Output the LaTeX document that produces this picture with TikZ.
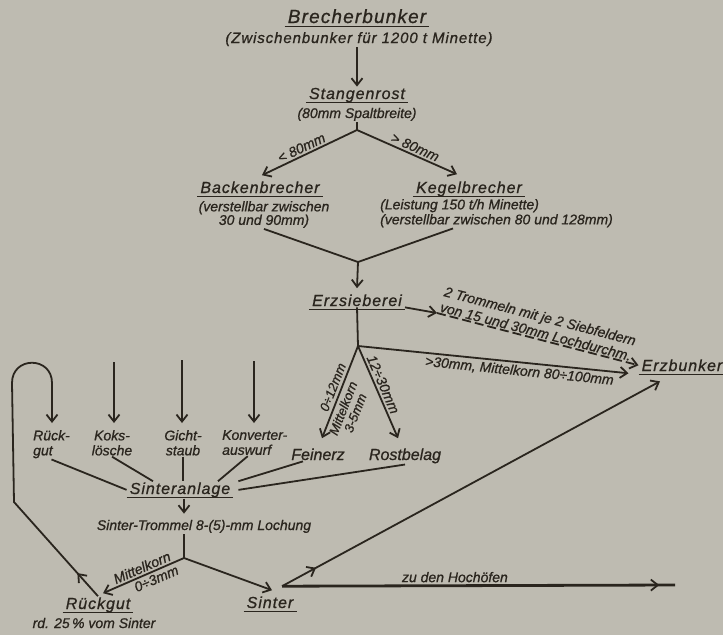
\documentclass[tikz,border=0pt]{standalone}
\usepackage{fontspec}
\setmainfont{Liberation Sans}[FakeBold=0.8]
\newfontfamily\sperrfont{Liberation Sans}[LetterSpace=6.0,FakeBold=0.8]
\usetikzlibrary{arrows.meta,decorations.markings,calc}
\definecolor{papier}{RGB}{190,187,177}
\definecolor{tinte}{RGB}{42,37,30}
\tikzset{
    every node/.style={text=tinte, inner sep=1pt, font=\itshape\fontsize{14}{15}\selectfont},
    linie/.style={draw=tinte, line width=1.8pt},
    strom/.style={linie, -{Straight Barb[length=7pt,width=11pt]}},
    mitte/.style={postaction={decorate}, decoration={markings,
        mark=at position #1 with {\arrow{Straight Barb[length=7pt,width=11pt,line width=1.8pt]}}}},
    kopf/.style={anchor=base, inner xsep=3pt, font=\sperrfont\itshape\fontsize{16}{18}\selectfont,
        append after command={\pgfextra{\draw[tinte, line width=1.8pt]
            ([yshift=-3.5pt]\tikzlastnode.base west) -- ([yshift=-3.5pt]\tikzlastnode.base east);}}},
    gross/.style={font=\sperrfont\itshape\fontsize{19}{21}\selectfont},
    stoff/.style={anchor=base, font=\itshape\fontsize{16}{18}\selectfont},
    klein/.style={font=\itshape\fontsize{13}{13}\selectfont},
}

\begin{document}
\begin{tikzpicture}[x=1pt,y=-1pt]
\fill[papier] (0,0) rectangle (723,635);
\useasboundingbox (0,0) rectangle (723,635);

% Brechen und Sieben
\node[kopf, gross] (brecher) at (357,23) {Brecherbunker};
\node[anchor=base, font=\sperrfont\itshape\fontsize{15}{17}\selectfont] (brecherzus) at (359,43) {(Zwischenbunker für 1200 t Minette)};
\node[kopf] (stangen) at (357,99) {Stangenrost};
\node[anchor=base] (stangenzus) at (357,118) {(80mm Spaltbreite)};
\coordinate (gabel1) at (357,130);
\node[kopf] (backen) at (260,193) {Backenbrecher};
\node[anchor=north, align=center, font=\itshape\fontsize{14}{13.5}\selectfont] (backenzus) at (264,200) {(verstellbar zwischen\\30 und 90mm)};
\node[kopf] (kegel) at (469,193) {Kegelbrecher};
\node[anchor=north west, align=left] (kegelzus) at (379,198) {(Leistung 150 t/h Minette)\\(verstellbar zwischen 80 und 128mm)};
\coordinate (gabel2) at (358,262);
\node[kopf] (erzs) at (357,306) {Erzsieberei};
\coordinate (sieb) at (437,313);
\node[kopf] (ebunk) at (682,371) {Erzbunker};
\coordinate (gabel3) at (358,346);
\node[stoff] (fein) at (318,460) {Feinerz};
\node[stoff] (rost) at (405,460) {Rostbelag};

% Sinteranlage
\coordinate (knick) at (14,502);
\coordinate (bogen) at (12,383);
\coordinate (bogenende) at (52,383);
\coordinate (qkoks) at (114,362);
\coordinate (qgicht) at (182,360);
\coordinate (qkonv) at (254,361);
\node[anchor=north west, align=left] (rgut) at (32,429) {Rück-\\gut};
\node[anchor=north, align=center] (koks) at (112,429) {Koks-\\lösche};
\node[anchor=north, align=center] (gicht) at (183,429) {Gicht-\\staub};
\node[anchor=north west, align=left] (konv) at (221,429) {Konverter-\\auswurf};
\node[kopf] (sinter) at (180,494) {Sinteranlage};
\node[anchor=base] (trommel) at (204,530) {Sinter-Trommel 8-(5)-mm Lochung};
\coordinate (gabel4) at (184,558);
\node[kopf] (rueck) at (98,609) {Rückgut};
\node[anchor=base] (rueckzus) at (94,628) {rd. 25\,\% vom Sinter};
\node[kopf] (sint) at (270,608) {Sinter};
\coordinate (abgang) at ($(sint.north)+(12,-9)$);
\coordinate (hoch) at (675,585);

\draw[strom] (brecherzus.south -| stangen.north) -- (stangen.north);
\draw[linie] (stangenzus.south) -- (gabel1);
\draw[strom] (gabel1) -- node[sloped, above=1pt, pos=.55] {< 80mm} ([xshift=2pt,yshift=5pt]backen.north);
\draw[strom] (gabel1) -- node[sloped, above=1pt, pos=.55] {> 80mm} ([xshift=-12pt,yshift=6pt]kegel.north);
\draw[linie] (backenzus.south) -- (gabel2) -- ($(kegel.south |- kegelzus.south)+(-16,0)$);
\draw[strom] (gabel2) -- ([yshift=5pt]erzs.north);
\draw[strom] (erzs.south east) -- (sieb);
\draw[strom, dash pattern=on 9pt off 4pt] (sieb) -- node[sloped, pos=0, anchor=south west, align=left, font=\itshape\fontsize{14}{16}\selectfont] {2 Trommeln mit je 2 Siebfeldern\\von 15 und 30mm Lochdurchm.} (ebunk.west);
\draw[linie] (erzs.south) -- (gabel3);
\draw[strom] (gabel3) -- node[sloped, below=1pt, pos=.6] {>30mm, Mittelkorn 80÷100mm} ([xshift=-10pt,yshift=-8pt]ebunk.west);
\draw[strom] (gabel3) -- node[klein, sloped, above=2pt, pos=.48] {0÷12mm} node[klein, sloped, below=2pt, pos=.64, align=center] {Mittelkorn\\3-5mm} ([xshift=4pt,yshift=9pt]fein.north);
\draw[strom] (gabel3) -- node[sloped, above=1pt, pos=.45] {12÷30mm} ([xshift=-7pt,yshift=9pt]rost.north);

\draw[strom, mitte=31pt] (rueck.north) -- (knick) -- (bogen) .. controls +(0,-27) and +(0,-27) .. (bogenende) -- ([xshift=20pt,yshift=6pt]rgut.north west);
\draw[strom, shorten >=6pt] (qkoks) -- (qkoks |- koks.north);
\draw[strom, shorten >=6pt] (qgicht) -- (qgicht |- gicht.north);
\draw[strom, shorten >=6pt] (qkonv) -- (qkonv |- konv.north);
\draw[linie] (rgut.south) -- (sinter.west);
\draw[linie] (koks.south) -- ([xshift=-27pt]sinter.north);
\draw[linie] (gicht.south) -- ([xshift=3pt]sinter.north);
\draw[linie] ([xshift=-7pt]konv.south) -- ([xshift=38pt]sinter.north);
\draw[linie] ([xshift=-15pt]fein.south) -- ([xshift=5pt]sinter.north east);
\draw[linie] (rost.south) -- ([xshift=5pt]sinter.east);
\draw[strom, shorten >=5pt] (gabel4 |- sinter.south) -- (gabel4 |- trommel.north);
\draw[linie] (gabel4 |- trommel.south) -- (gabel4);
\draw[strom] (gabel4) -- node[sloped, above=1pt, pos=.48] {Mittelkorn} node[sloped, below=1pt, pos=.38] {0÷3mm} ([xshift=5pt,yshift=3pt]rueck.north);
\draw[strom] (gabel4) -- ([xshift=2pt,yshift=5pt]sint.north);
\draw[strom, mitte=.09] (abgang) -- ([xshift=-22pt,yshift=-9pt]ebunk.south);
\draw[linie, line width=2.8pt, mitte=.96] (abgang) -- node[above=1pt, pos=.44] {zu den Hochöfen} (hoch);
\end{tikzpicture}
\end{document}
